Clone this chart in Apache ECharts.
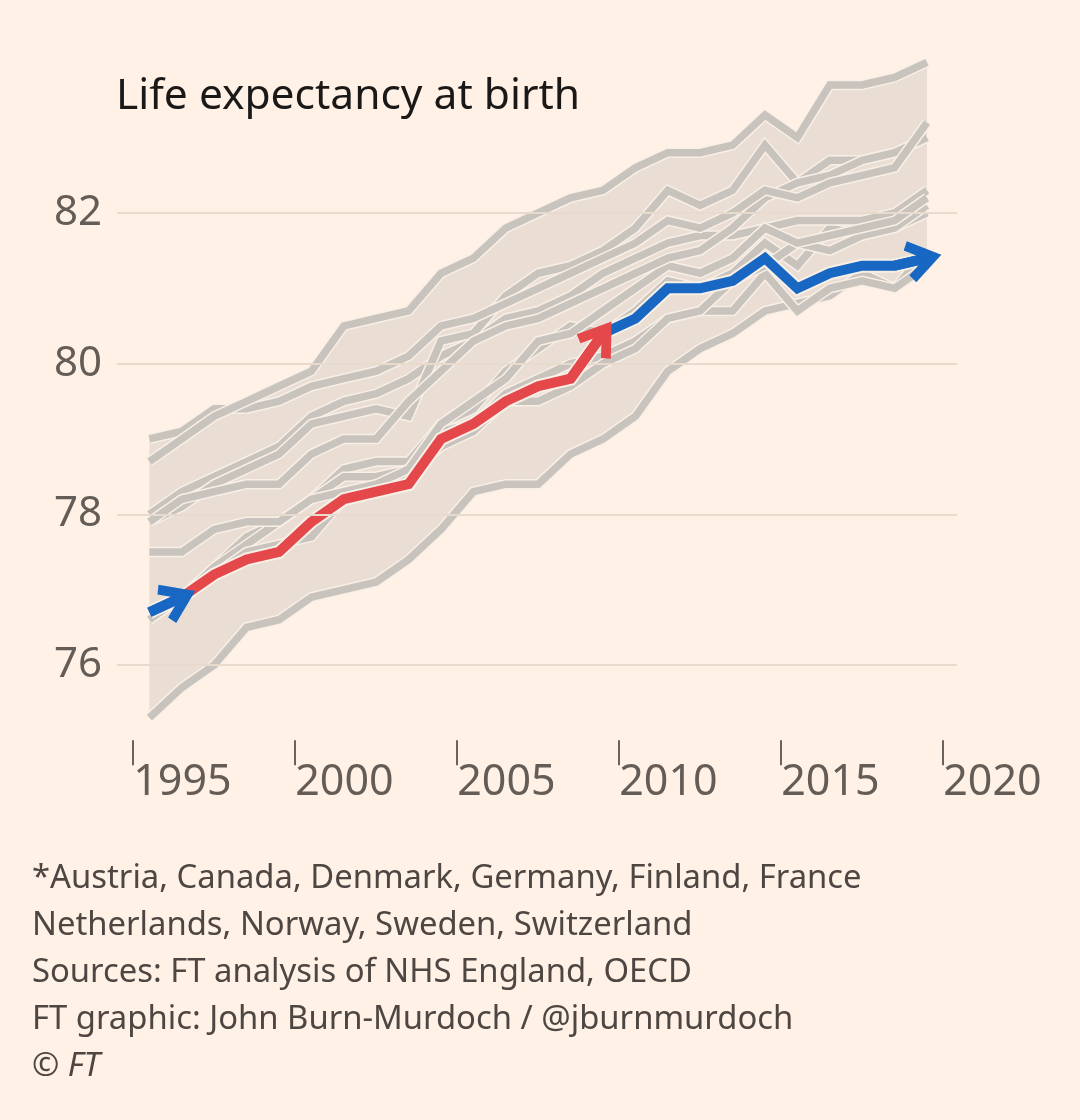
<!DOCTYPE html>
<html lang="en">
<head>
<meta charset="UTF-8">
<title>Life expectancy at birth</title>
<script src="https://cdn.jsdelivr.net/npm/echarts@6/dist/echarts.min.js"></script>
<style>
  html, body { margin: 0; padding: 0; background: #FFF1E5; }
  #main { width: 1080px; height: 1120px; }
</style>
</head>
<body>
<div id="main"></div>
<script>
// years of data, axis ticks
var years = [1995, 1996, 1997, 1998, 1999, 2000, 2001, 2002, 2003, 2004, 2005, 2006,
             2007, 2008, 2009, 2010, 2011, 2012, 2013, 2014, 2015, 2016, 2017, 2018, 2019];
var tickYears = [1995, 2000, 2005, 2010, 2015, 2020];
var yTicks = [76, 78, 80, 82];

// comparison countries (grey lines)
var austria     = [76.6, 76.9, 77.3, 77.7, 77.9, 78.2, 78.6, 78.7, 78.7, 79.2, 79.4, 79.9, 80.2, 80.5, 80.4, 80.7, 81.1, 81.0, 81.2, 81.6, 81.3, 81.8, 81.7, 81.8, 82.0];
var canada      = [78.0, 78.3, 78.5, 78.7, 78.9, 79.3, 79.5, 79.6, 79.8, 80.1, 80.3, 80.6, 80.7, 80.9, 81.2, 81.4, 81.6, 81.7, 81.7, 81.8, 81.9, 81.9, 81.9, 82.0, 82.3];
var denmark     = [75.3, 75.7, 76.0, 76.5, 76.6, 76.9, 77.0, 77.1, 77.4, 77.8, 78.3, 78.4, 78.4, 78.8, 79.0, 79.3, 79.9, 80.2, 80.4, 80.7, 80.8, 80.9, 81.2, 81.0, 81.5];
var germany     = [76.6, 76.9, 77.3, 77.6, 77.9, 78.2, 78.5, 78.5, 78.6, 79.1, 79.2, 79.6, 79.8, 80.0, 80.1, 80.3, 80.6, 80.7, 80.7, 81.2, 80.7, 81.0, 81.1, 81.0, 81.3];
var finland     = [76.7, 76.9, 77.2, 77.5, 77.6, 77.7, 78.2, 78.3, 78.5, 78.9, 79.1, 79.5, 79.5, 79.7, 80.0, 80.2, 80.6, 80.7, 81.1, 81.3, 81.6, 81.5, 81.7, 81.8, 82.1];
var france      = [77.9, 78.1, 78.4, 78.6, 78.8, 79.2, 79.3, 79.4, 79.3, 80.3, 80.4, 80.9, 81.2, 81.3, 81.5, 81.8, 82.3, 82.1, 82.3, 82.9, 82.4, 82.7, 82.7, 82.8, 83.0];
var netherlands = [77.5, 77.5, 77.8, 77.9, 77.9, 78.2, 78.3, 78.4, 78.6, 79.2, 79.5, 79.8, 80.3, 80.4, 80.7, 81.0, 81.3, 81.2, 81.4, 81.8, 81.6, 81.7, 81.8, 81.9, 82.2];
var norway      = [77.9, 78.2, 78.3, 78.4, 78.4, 78.8, 79.0, 79.0, 79.5, 79.9, 80.3, 80.5, 80.6, 80.8, 81.0, 81.2, 81.4, 81.5, 81.8, 82.2, 82.4, 82.5, 82.7, 82.8, 83.0];
var sweden      = [79.0, 79.1, 79.4, 79.4, 79.5, 79.7, 79.8, 79.9, 80.1, 80.5, 80.6, 80.8, 81.0, 81.2, 81.4, 81.6, 81.9, 81.8, 82.0, 82.3, 82.2, 82.4, 82.5, 82.6, 83.2];
var switzerland = [78.7, 79.0, 79.3, 79.5, 79.7, 79.9, 80.5, 80.6, 80.7, 81.2, 81.4, 81.8, 82.0, 82.2, 82.3, 82.6, 82.8, 82.8, 82.9, 83.3, 83.0, 83.7, 83.7, 83.8, 84.0];

// UK, coloured by period
var uk = [76.7, 76.9, 77.2, 77.4, 77.5, 77.9, 78.2, 78.3, 78.4, 79.0, 79.2, 79.5, 79.7, 79.8, 80.4, 80.6, 81.0, 81.0, 81.1, 81.4, 81.0, 81.2, 81.3, 81.3, 81.4];
var ukPeriods = [
  { from: 2009, to: 2019, colour: 'blue' },
  { from: 1996, to: 2009, colour: 'red' },
  { from: 1995, to: 1996, colour: 'blue' }
];

var footnote = [
  '*Austria, Canada, Denmark, Germany, Finland, France',
  'Netherlands, Norway, Sweden, Switzerland',
  'Sources: FT analysis of NHS England, OECD',
  'FT graphic: John Burn-Murdoch / @jburnmurdoch',
  '{c|© }{i|FT}'
];

var others = [austria, canada, denmark, germany, finland, france, netherlands, norway, sweden, switzerland];
var names = ['Austria', 'Canada', 'Denmark', 'Germany', 'Finland', 'France', 'Netherlands', 'Norway', 'Sweden', 'Switzerland'];

var FONT = '"Noto Sans", "Open Sans", sans-serif';
var BG = '#FFF1E5';
var GREY = '#C9C3BD';
var HALO = '#F8EFE6';
var TEXT = '#4D4642';
var COLOURS = { red: '#E4484B', blue: '#1867C2' };

// chevron arrow head, pointing up; tiny first piece pulls the centre towards the tip
var CHEVRON = 'path://M0,-6L0.01,-6L0,-5.99Z M0,0L19.1,29.4L11.5,34.3L0,16.6L-11.5,34.3L-19.1,29.4Z';

// values are annual, plotted at mid-year
function pts(vals, from, to) {
  var out = [];
  years.forEach(function (y, i) {
    if ((from === undefined || y >= from) && (to === undefined || y <= to)) {
      out.push([y + 0.5, vals[i]]);
    }
  });
  return out;
}

var bandLow = years.map(function (y, i) {
  return Math.min.apply(null, others.map(function (c) { return c[i]; }));
});
var bandHigh = years.map(function (y, i) {
  return Math.max.apply(null, others.map(function (c) { return c[i]; }));
});

var series = [];

// gridlines
series.push({
  type: 'line', name: 'grid', data: pts(bandLow), z: 1,
  symbol: 'none', lineStyle: { width: 0, opacity: 0 },
  markLine: {
    silent: true, symbol: 'none', animation: false,
    label: { show: false },
    lineStyle: { color: '#E8DACD', width: 2, type: 'solid' },
    data: yTicks.map(function (v) { return { yAxis: v }; })
  }
});

// shaded range of the comparison countries
series.push({
  type: 'custom', name: 'band', z: 2, silent: true,
  data: [[2000, 80]],
  renderItem: function (params, api) {
    var top = pts(bandHigh).map(function (p) { return api.coord(p); });
    var bottom = pts(bandLow).map(function (p) { return api.coord(p); }).reverse();
    return {
      type: 'polygon',
      shape: { points: top.concat(bottom) },
      style: { fill: 'rgba(190,184,178,0.32)' }
    };
  }
});

others.forEach(function (c, k) {
  series.push({
    type: 'line', name: names[k] + ' halo', data: pts(c), z: 3,
    symbol: 'none', lineStyle: { color: HALO, width: 10.5, join: 'miter' }
  });
  series.push({
    type: 'line', name: names[k], data: pts(c), z: 3,
    symbol: 'none', lineStyle: { color: GREY, width: 7.5, join: 'miter' }
  });
});

ukPeriods.forEach(function (p) {
  var d = pts(uk, p.from, p.to);
  series.push({
    type: 'line', name: 'UK halo', data: d, z: 4,
    symbol: 'none', lineStyle: { color: HALO, width: 14, join: 'miter' }
  });
  series.push({
    type: 'line', name: 'UK', data: d, z: 4,
    symbol: 'none', lineStyle: { color: COLOURS[p.colour], width: 10, join: 'miter' }
  });
});

ukPeriods.forEach(function (p) {
  var d = pts(uk, p.from, p.to);
  series.push({
    type: 'lines', coordinateSystem: 'cartesian2d', z: 5,
    symbol: ['none', CHEVRON], symbolSize: [40, 42],
    lineStyle: { color: COLOURS[p.colour], width: 10, opacity: 1, curveness: 0 },
    data: [{ coords: [d[d.length - 2], d[d.length - 1]] }]
  });
});

var chart = echarts.init(document.getElementById('main'));
chart.setOption({
  backgroundColor: BG,
  animation: false,
  textStyle: { fontFamily: FONT },
  title: [
    {
      text: 'Life expectancy at birth', left: 116, top: 75, padding: 0,
      textStyle: { fontFamily: FONT, fontSize: 42.5, fontWeight: 'normal', color: '#1B1918' }
    },
    {
      text: footnote.join('\n'), left: 32, top: 855, padding: 0,
      textStyle: {
        fontFamily: FONT, fontSize: 32.8, lineHeight: 47, fontWeight: 'normal', color: TEXT,
        rich: {
          c: { fontFamily: FONT, fontSize: 32.8, lineHeight: 47, color: TEXT },
          i: { fontFamily: FONT, fontSize: 32.8, lineHeight: 47, color: TEXT, fontStyle: 'italic' }
        }
      }
    }
  ],
  grid: { left: 117, top: 62.3, width: 840, height: 678, containLabel: false },
  xAxis: {
    type: 'value', min: 1994.5, max: 2020.426,
    axisLine: { show: false, onZero: false },
    splitLine: { show: false },
    axisTick: { show: true, customValues: tickYears, length: 25, lineStyle: { color: '#6A625C', width: 2 } },
    axisLabel: {
      customValues: tickYears, align: 'left', margin: 21,
      fontFamily: FONT, fontSize: 43, color: '#645C56',
      formatter: function (v) { return String(v); }
    }
  },
  yAxis: {
    type: 'value', min: 75, max: 84, interval: 1,
    axisLine: { show: false }, axisTick: { show: false }, splitLine: { show: false },
    axisLabel: {
      customValues: yTicks, margin: 15,
      fontFamily: FONT, fontSize: 42, color: '#645C56',
      formatter: function (v) { return String(v); }
    }
  },
  series: series
});
</script>
</body>
</html>
